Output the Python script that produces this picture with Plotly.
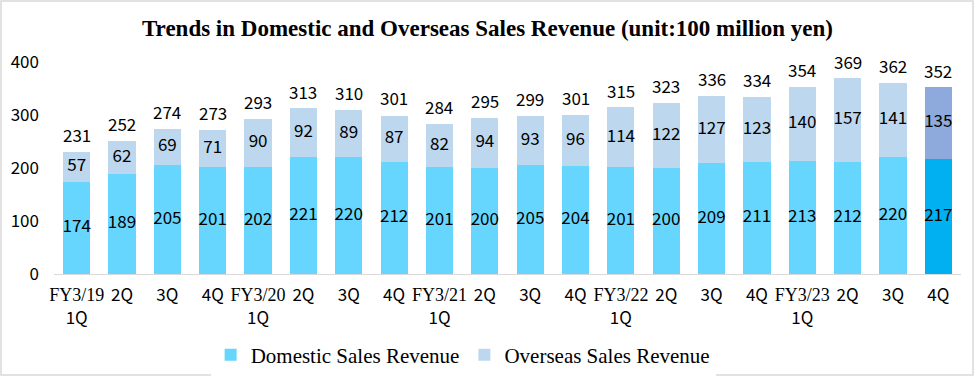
import plotly.graph_objects as go

periods = ["FY3/19<br>1Q", "2Q", "3Q", "4Q", "FY3/20<br>1Q", "2Q", "3Q", "4Q",
           "FY3/21<br>1Q", "2Q", "3Q", "4Q", "FY3/22<br>1Q", "2Q", "3Q", "4Q",
           "FY3/23<br>1Q", "2Q", "3Q", "4Q"]
domestic = [174, 189, 205, 201, 202, 221, 220, 212, 201, 200, 205, 204, 201, 200, 209, 211, 213, 212, 220, 217]
overseas = [57, 62, 69, 71, 90, 92, 89, 87, 82, 94, 93, 96, 114, 122, 127, 123, 140, 157, 141, 135]
totals = [231, 252, 274, 273, 293, 313, 310, 301, 284, 295, 299, 301, 315, 323, 336, 334, 354, 369, 362, 352]

SERIF = "Liberation Serif, Times New Roman, serif"
SANS = "Noto Sans CJK JP, DejaVu Sans, sans-serif"

def fmt_tick(lbl):
    parts = lbl.split("<br>")
    out = []
    for p in parts:
        if p.startswith("FY"):
            out.append(f"<span style='font-family:{SERIF};font-size:18px'>{p}</span>")
        else:
            out.append(p)
    return "<br>".join(out)

x = list(range(len(periods)))
dom_colors = ["#66D6FF"] * (len(x) - 1) + ["#00B0F0"]
ovs_colors = ["#BDD7EE"] * (len(x) - 1) + ["#8EA9DB"]

fig = go.Figure()
fig.add_trace(go.Bar(x=x, y=domestic, name="Domestic Sales Revenue",
                     marker=dict(color=dom_colors, line=dict(width=0)),
                     hoverinfo="skip"))
fig.add_trace(go.Bar(x=x, y=overseas, name="Overseas Sales Revenue",
                     marker=dict(color=ovs_colors, line=dict(width=0)),
                     hoverinfo="skip"))

lblfont = dict(family=SANS, size=17, color="black")
fig.add_trace(go.Scatter(x=x, y=[d / 2 for d in domestic], mode="text",
                         text=[str(v) for v in domestic], textfont=lblfont,
                         showlegend=False, hoverinfo="skip"))
fig.add_trace(go.Scatter(x=x, y=[d + o / 2 for d, o in zip(domestic, overseas)], mode="text",
                         text=[str(v) for v in overseas], textfont=lblfont,
                         showlegend=False, hoverinfo="skip"))

annotations = [dict(x=xi, y=t, text=str(t), showarrow=False, xref="x", yref="y",
                    yanchor="middle", yshift=17, font=lblfont)
               for xi, t in zip(x, totals)]

L, R, T, B = 54, 14, 62, 103
PW, PH = 975 - L - R, 377 - T - B

fig.update_layout(
    width=975, height=377,
    barmode="stack", bargap=0.4,
    paper_bgcolor="white", plot_bgcolor="white",
    margin=dict(l=L, r=R, t=T, b=B, autoexpand=False),
    title=dict(text="<b>Trends in Domestic and Overseas Sales Revenue (unit:100 million yen)</b>",
               x=0.5, xanchor="center", xref="container", yref="container",
               y=1 - 28 / 377, yanchor="middle",
               font=dict(family=SERIF, size=23, color="black")),
    font=dict(family=SANS, size=17, color="black"),
    xaxis=dict(tickmode="array", tickvals=x, ticktext=[fmt_tick(p) for p in periods],
               tickangle=0, showline=True, linecolor="#D9D9D9", linewidth=1,
               ticks="", range=[-0.5, len(x) - 0.5], showgrid=False, automargin=False,
               ticklabelstandoff=6,
               tickfont=dict(family=SANS, size=17, color="black")),
    yaxis=dict(range=[0, 400], tickvals=[0, 100, 200, 300, 400], showgrid=False,
               zeroline=False, ticks="", ticklabelstandoff=14, automargin=False,
               tickfont=dict(family=SANS, size=17, color="black")),
    legend=dict(orientation="h", x=0.475, xanchor="center", xref="container",
                yref="container", y=1 - 355 / 377, yanchor="middle",
                font=dict(family=SERIF, size=21, color="black"),
                itemwidth=30, traceorder="normal"),
    annotations=annotations,
    shapes=[dict(type="rect", xref="paper", yref="paper",
                 x0=(1 - L) / PW, x1=(973 - L) / PW,
                 y0=(377 - B - 375) / PH, y1=(377 - B - 1) / PH,
                 line=dict(color="#D9D9D9", width=1.5), fillcolor="rgba(0,0,0,0)")],
)

fig.write_html("out.html", config={"displayModeBar": False},
               post_script="document.body.style.margin='0';document.body.style.overflow='hidden';")
